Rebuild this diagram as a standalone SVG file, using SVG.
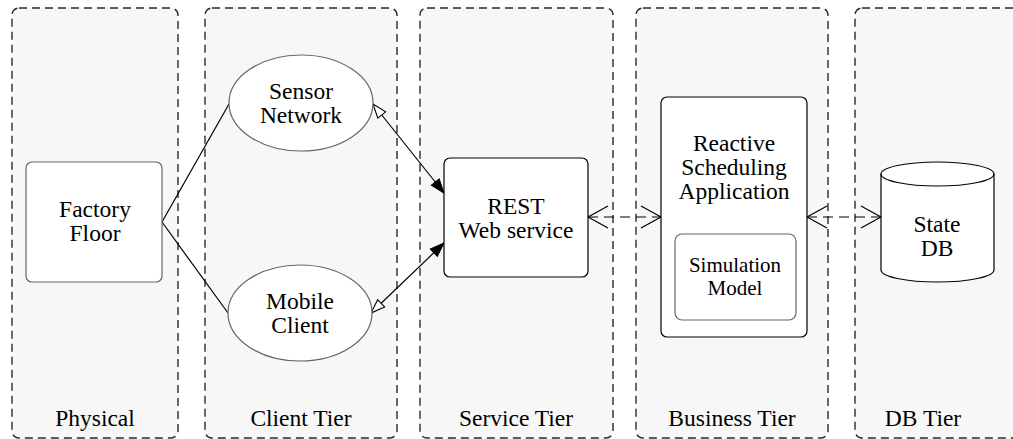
<svg xmlns="http://www.w3.org/2000/svg" width="1013" height="439" viewBox="0 0 1013 439" font-family="'Liberation Serif', 'DejaVu Serif', serif">
<style>
text{font-family:'Liberation Serif','DejaVu Serif',serif;font-size:23.5px;fill:#000;text-anchor:middle}
.tier{fill:#f7f7f7;stroke:#2a2a2a;stroke-width:1.4;stroke-dasharray:8,5}
.node{fill:#fff;stroke:#000;stroke-width:1.2}
.soft{fill:#fff;stroke:#666;stroke-width:1.2}
.conn{fill:none;stroke:#000;stroke-width:1.2}
.dash{fill:none;stroke:#000;stroke-width:1.2;stroke-dasharray:10,6}
.small{font-size:21px}
</style>
<defs>
<marker id="filled" markerUnits="userSpaceOnUse" markerWidth="16" markerHeight="12" refX="15" refY="6" orient="auto" overflow="visible">
<path d="M1,1 L15,6 L1,11 Z" fill="#000" stroke="#000" stroke-width="1"/>
</marker>
<marker id="open" markerUnits="userSpaceOnUse" markerWidth="16" markerHeight="12" refX="15" refY="6" orient="auto-start-reverse" overflow="visible">
<path d="M1,1 L15,6 L1,11 Z" fill="#fff" stroke="#000" stroke-width="1.1"/>
</marker>
<marker id="vee" markerUnits="userSpaceOnUse" markerWidth="24" markerHeight="26" refX="21" refY="12" orient="auto-start-reverse" overflow="visible">
<path d="M1,1 L21,12 L1,23" fill="none" stroke="#000" stroke-width="1.2"/>
</marker>
</defs>

<g id="tier-physical">
<rect class="tier" x="12" y="8" width="166" height="430" rx="7"/>
<text x="95" y="426">Physical</text>
</g>
<g id="tier-client">
<rect class="tier" x="205" y="8" width="192" height="430" rx="7"/>
<text x="301" y="426">Client Tier</text>
</g>
<g id="tier-service">
<rect class="tier" x="420" y="8" width="193" height="430" rx="7"/>
<text x="516" y="426">Service Tier</text>
</g>
<g id="tier-business">
<rect class="tier" x="636" y="8" width="192" height="430" rx="7"/>
<text x="732" y="426">Business Tier</text>
</g>
<g id="tier-db">
<rect class="tier" x="855" y="8" width="192" height="430" rx="7"/>
<text x="923" y="426">DB Tier</text>
</g>

<g id="connectors">
<line class="conn" x1="162" y1="222" x2="229" y2="104"/>
<line class="conn" x1="162" y1="222" x2="228" y2="313"/>
<line class="conn" x1="373" y1="104" x2="444" y2="193" marker-start="url(#open)" marker-end="url(#filled)"/>
<line class="conn" x1="371" y1="313" x2="444" y2="243" marker-start="url(#open)" marker-end="url(#filled)"/>
<line class="dash" x1="588" y1="217" x2="661" y2="217" marker-start="url(#vee)" marker-end="url(#vee)"/>
<line class="dash" x1="807" y1="217" x2="881" y2="217" marker-start="url(#vee)" marker-end="url(#vee)"/>
</g>

<g id="factory-floor">
<rect class="soft" x="26" y="162" width="136" height="120" rx="6"/>
<text x="95" y="217">Factory</text>
<text x="95" y="241">Floor</text>
</g>
<g id="sensor-network">
<ellipse class="soft" cx="301" cy="103" rx="72" ry="48"/>
<text x="301" y="99">Sensor</text>
<text x="301" y="123">Network</text>
</g>
<g id="mobile-client">
<ellipse class="soft" cx="300" cy="313" rx="72" ry="48"/>
<text x="300" y="309">Mobile</text>
<text x="300" y="333">Client</text>
</g>
<g id="rest">
<rect class="node" x="444" y="158" width="144" height="119" rx="6"/>
<text x="516" y="214">REST</text>
<text x="516" y="238">Web service</text>
</g>
<g id="reactive-scheduling">
<rect class="node" x="661" y="97" width="146" height="240" rx="6"/>
<text x="734" y="151">Reactive</text>
<text x="734" y="175">Scheduling</text>
<text x="734" y="199">Application</text>
</g>
<g id="simulation-model">
<rect class="soft" x="675" y="234" width="121" height="86" rx="7"/>
<text class="small" x="735" y="272">Simulation</text>
<text class="small" x="735" y="295">Model</text>
</g>
<g id="state-db">
<path class="node" d="M881,174 A56.5,12 0 0 1 994,174 L994,270 A56.5,12 0 0 1 881,270 Z"/>
<path class="conn" d="M881,174 A56.5,12 0 0 0 994,174"/>
<text x="937" y="232">State</text>
<text x="937" y="256">DB</text>
</g>
</svg>
